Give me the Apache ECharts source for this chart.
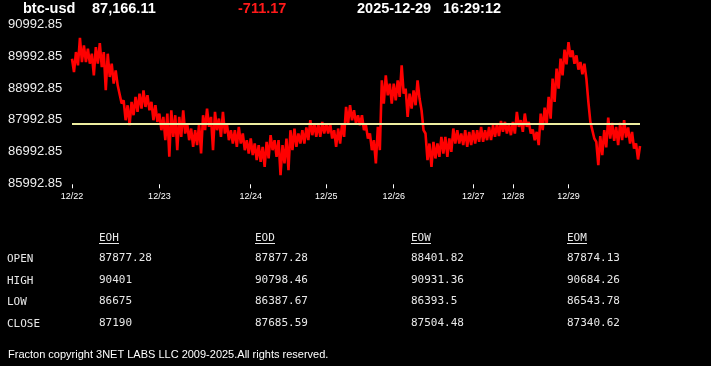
<!DOCTYPE html>
<html><head><meta charset="utf-8">
<script src="https://cdn.jsdelivr.net/npm/echarts@6/dist/echarts.min.js"></script>
<style>html,body{margin:0;padding:0;background:#000;}#c{width:711px;height:366px;}</style>
</head><body><div id="c"></div>
<script>
// ---- header ----
const symbol = 'btc-usd';
const lastPrice = '87,166.11';
const change = '-711.17';
const dateStr = '2025-12-29';
const timeStr = '16:29:12';
const refLine = 87877.28;

// ---- y axis ----
const yMin = 85992.85, yMax = 90992.85, yStep = 1000;

// ---- price trace per day (alternating upper / lower edge of the noisy band) ----
const dayLabels = ['12/22','12/23','12/24','12/25','12/26','12/27','12/28','12/29'];
const d22 = [89916,89497,90125,89707,90576,89811,90335,89811,90230,89759,90073,89392,90282,89759,90408,89654,90125,88921,90073,89340,89759,89131,89550,89078,89026,88503,88607,87979,88450,87822,88555,88136,88712,88241,88817,88346,88921,88398,88764,88293,88555,87979,88450,87927];
const d23 = [88189,87665,88084,87351,88189,86827,88293,87456,88136,87037,88084,87456,88293,87560,87874,87351,87717,87142,87665,87194,87874,86932,88136,87665,88346,87770,88084,87037,88241,87665,88031,87456,88241,87560,87874,87351,87665,87246,87665,87142,87770,87246,87560,87037,87351,86932];
const d24 = [87403,86880,87246,86723,87194,86670,87142,86513,87299,86775,87508,87037,87351,86827,87351,86252,87194,86618,87403,86409,87665,87037,87717,87142,87560,87246,87665,87246,87749,87351,87979,87508,87874,87456,87874,87456,87927,87560];
const d25 = [87874,87560,87874,87403,87665,87142,87717,87246,87874,87456,88398,87874,88450,87979,88293,87874,88136,87822,88136,87665,87822,87403,87560,87037,87351,86618,87770,87037,89236,88503,89392,88764,89131,88503];
const d26 = [89131,88607,89236,88712,89707,88817,88974,88084,88817,88346,88921,88450,89236,88660,88293,87665,87560,86723,87246,86513,87299,86775,87246,86827,87456,86932,87456,86827,87403,86984,87717,87246,87665,87246,87560,87194,87665,87142,87613,87194];
const d27 = [87665,87246,87665,87299,87770,87299,87665,87351,87770,87351,87822,87456,87874,87477,87958,87613,87927,87560,87874,87508];
const d28 = [87927,87560,88241,87770,87979,87613,88189,87770,87927,87560,87686,87351,87613,87194,88189,87665,88377,87854,88712,88031,89288,88555,89602,88974,89916,89392,90199,89738];
const d29 = [90440,89968,90178,89759,90021,89571,89811,89424,89759,89288,88555,87927,87927,87403,87299,86566,87477,86880,87665,87121,88063,87403,87895,87330,87770,87194,87895,87351,87979,87435,87749,87246,87613,87089,87246,86744,87166];
const days = [d22,d23,d24,d25,d26,d27,d28,d29];

// ---- table ----
const tableCols = ['EOH','EOD','EOW','EOM'];
const tableRows = ['OPEN','HIGH','LOW','CLOSE'];
const colEOH = ['87877.28','90401','86675','87190'];
const colEOD = ['87877.28','90798.46','86387.67','87685.59'];
const colEOW = ['88401.82','90931.36','86393.5','87504.48'];
const colEOM = ['87874.13','90684.26','86543.78','87340.62'];
const tableData = [colEOH,colEOD,colEOW,colEOM];
const footer = 'Fracton copyright 3NET LABS LLC 2009-2025.All rights reserved.';

// build category axis + series
const cats = [], vals = [];
days.forEach((arr, di) => {
  arr.forEach((v, i) => { cats.push(dayLabels[di] + '#' + i); vals.push(v); });
});
const isDayStart = (idx, val) => /#0$/.test(val);

const FONT_H = '"Liberation Sans", Arial, sans-serif';
const FONT_M = '"DejaVu Sans Mono", monospace';
const graphic = [];
const hdr = [[symbol,23,'#fff'],[lastPrice,92,'#fff'],[change,238,'#ff1a1a'],[dateStr,357,'#fff'],[timeStr,443,'#fff']];
hdr.forEach(h => graphic.push({type:'text', x:h[1], y:9, style:{text:h[0], fill:h[2], font:'bold 14.5px ' + FONT_H, textVerticalAlign:'middle'}}));
const colX = [99,255,411,567];
const rowY = [259.5,281,302.5,324];
tableCols.forEach((c, ci) => {
  graphic.push({type:'text', x:colX[ci], y:238, style:{text:c, fill:'#e8e8e8', font:'11px ' + FONT_M, textVerticalAlign:'middle'}});
  graphic.push({type:'line', shape:{x1:colX[ci], y1:243.5, x2:colX[ci] + 20, y2:243.5}, style:{stroke:'#e8e8e8', lineWidth:1}});
  tableData[ci].forEach((v, ri) => graphic.push({type:'text', x:colX[ci], y:rowY[ri] - 1, style:{text:v, fill:'#e8e8e8', font:'11px ' + FONT_M, textVerticalAlign:'middle'}}));
});
tableRows.forEach((r, ri) => graphic.push({type:'text', x:7, y:rowY[ri], style:{text:r, fill:'#e8e8e8', font:'11px ' + FONT_M, textVerticalAlign:'middle'}}));
graphic.push({type:'text', x:8, y:355, style:{text:footer, fill:'#fff', font:'11px ' + FONT_H, textVerticalAlign:'middle'}});

const chart = echarts.init(document.getElementById('c'), null, {renderer:'canvas'});
chart.setOption({
  backgroundColor:'#000',
  animation:false,
  grid:{left:72, right:71, top:24.5, bottom:182.7},
  xAxis:{
    type:'category', data:cats, boundaryGap:false, offset:1,
    axisLine:{show:false},
    axisTick:{show:true, interval:isDayStart, length:4, lineStyle:{color:'#fff', width:1}},
    axisLabel:{interval:isDayStart, color:'#fff', fontSize:9, fontFamily:FONT_H, margin:8, formatter:v => v.split('#')[0]},
    splitLine:{show:false}
  },
  yAxis:{
    type:'value', min:yMin, max:yMax, interval:yStep,
    axisLine:{show:false}, axisTick:{show:false}, splitLine:{show:false},
    axisLabel:{color:'#eee', fontSize:13, fontFamily:FONT_H, align:'left', margin:64, formatter:v => v.toFixed(2)}
  },
  series:[
    {type:'line', data:vals, showSymbol:false, z:2, lineStyle:{color:'#ff0000', width:2.6, join:'bevel', cap:'butt'}, silent:true},
    {type:'line', data:[], z:5, silent:true,
     markLine:{silent:true, symbol:'none', label:{show:false}, lineStyle:{color:'#eeeea0', width:2, type:'solid'}, data:[{yAxis:refLine}]}}
  ],
  graphic:graphic
});
</script></body></html>
